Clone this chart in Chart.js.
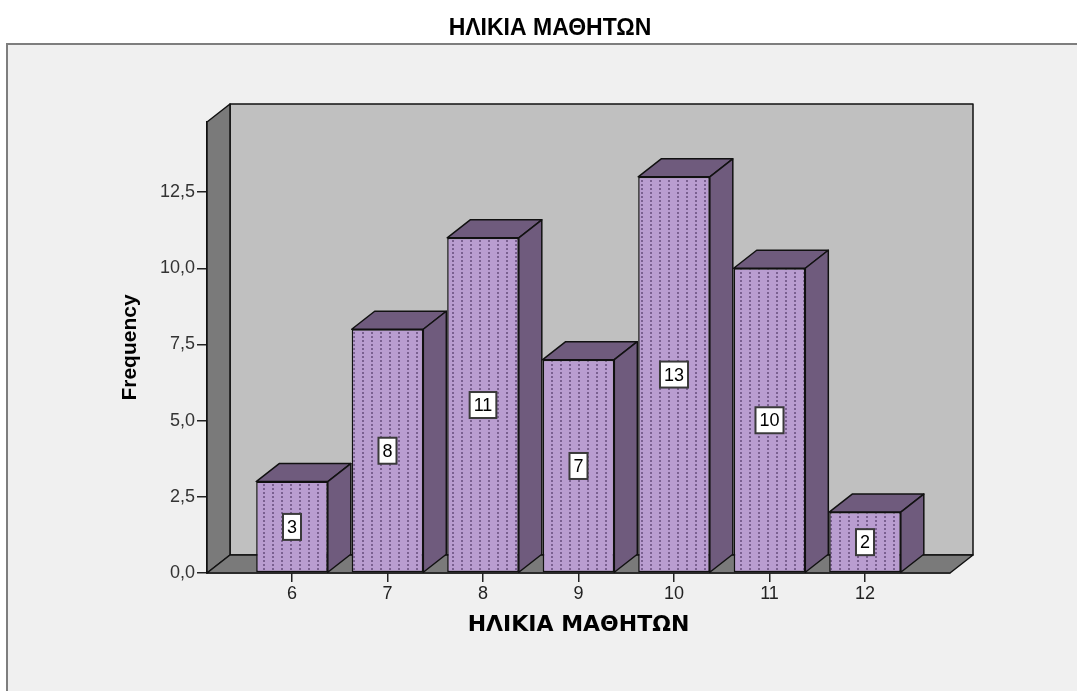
<!DOCTYPE html>
<html>
<head>
<meta charset="utf-8">
<script src="https://cdn.jsdelivr.net/npm/chart.js@4.4.1/dist/chart.umd.min.js"></script>
<style>
  html, body { margin: 0; padding: 0; background: #ffffff; overflow: hidden; }
  canvas { display: block; }
</style>
</head>
<body>
<canvas id="myChart" width="1077" height="691"></canvas>
<script>
// values
var ages = [6, 7, 8, 9, 10, 11, 12];
var freq = [3, 8, 11, 7, 13, 10, 2];
var yTicks = [0, 2.5, 5, 7.5, 10, 12.5];
var titleText = 'ΗΛΙΚΙΑ ΜΑΘΗΤΩΝ';
var xTitle = 'ΗΛΙΚΙΑ ΜΑΘΗΤΩΝ';
var yTitle = 'Frequency';

// 3d depth of the box and bars
var DX = 23, DY = 18;

function makeDots() {
    var c = document.createElement('canvas');
    c.width = 9; c.height = 4;
    var g = c.getContext('2d');
    g.fillStyle = '#b99dd0';
    g.fillRect(0, 0, 9, 4);
    g.fillStyle = '#7a6090';
    g.fillRect(2, 0, 2, 2);
    return g.createPattern(c, 'repeat');
}

function poly(ctx, pts, fill) {
    ctx.beginPath();
    ctx.moveTo(pts[0][0], pts[0][1]);
    for (var i = 1; i < pts.length; i++) ctx.lineTo(pts[i][0], pts[i][1]);
    ctx.closePath();
    ctx.fillStyle = fill;
    ctx.fill();
    ctx.stroke();
}

var boxPlugin = {
    id: 'box3d',
    beforeDraw: function(chart) {
        var ctx = chart.ctx;
        ctx.save();
        ctx.fillStyle = '#ffffff';
        ctx.fillRect(0, 0, chart.width, chart.height);
        ctx.fillStyle = '#f0f0f0';
        ctx.fillRect(7, 44, chart.width, chart.height);
        ctx.strokeStyle = '#7e7e7e';
        ctx.lineWidth = 2;
        ctx.beginPath();
        ctx.moveTo(7, chart.height + 5);
        ctx.lineTo(7, 44);
        ctx.lineTo(chart.width + 5, 44);
        ctx.stroke();
        ctx.restore();
    },
    beforeDatasetsDraw: function(chart) {
        var ctx = chart.ctx;
        var a = chart.chartArea;
        ctx.save();
        ctx.strokeStyle = '#111111';
        ctx.lineWidth = 1.5;
        ctx.lineJoin = 'round';
        // back wall, side wall, floor
        poly(ctx, [[a.left + DX, a.top - DY], [a.right + DX, a.top - DY], [a.right + DX, a.bottom - DY], [a.left + DX, a.bottom - DY]], '#c0c0c0');
        poly(ctx, [[a.left, a.top], [a.left + DX, a.top - DY], [a.left + DX, a.bottom - DY], [a.left, a.bottom]], '#7a7a7a');
        poly(ctx, [[a.left, a.bottom], [a.left + DX, a.bottom - DY], [a.right + DX, a.bottom - DY], [a.right, a.bottom]], '#7a7a7a');
        // top and side of every bar
        var bars = chart.getDatasetMeta(0).data;
        bars.forEach(function(b) {
            var xl = b.x - b.width / 2, xr = b.x + b.width / 2;
            var yt = b.y, yb = b.base;
            poly(ctx, [[xl, yt], [xl + DX, yt - DY], [xr + DX, yt - DY], [xr, yt]], '#6f5b7d');
            poly(ctx, [[xr, yt], [xr + DX, yt - DY], [xr + DX, yb - DY], [xr, yb]], '#6f5b7d');
        });
        ctx.restore();
    },
    afterDatasetsDraw: function(chart) {
        var ctx = chart.ctx;
        var bars = chart.getDatasetMeta(0).data;
        ctx.save();
        ctx.font = '18px "Liberation Sans", Arial, sans-serif';
        ctx.textAlign = 'center';
        ctx.textBaseline = 'middle';
        bars.forEach(function(b, i) {
            var txt = String(freq[i]);
            var w = ctx.measureText(txt).width + 8;
            var h = 26;
            var cy = (b.y + b.base) / 2;
            ctx.fillStyle = '#ffffff';
            ctx.fillRect(b.x - w / 2, cy - h / 2, w, h);
            ctx.strokeStyle = '#3a3a3a';
            ctx.lineWidth = 2;
            ctx.strokeRect(b.x - w / 2, cy - h / 2, w, h);
            ctx.fillStyle = '#000000';
            ctx.fillText(txt, b.x, cy + 1);
        });
        ctx.restore();
    }
};

var ctx = document.getElementById('myChart').getContext('2d');
var myChart = new Chart(ctx, {
    type: 'bar',
    data: {
        datasets: [{
            label: yTitle,
            data: ages.map(function(a, i) { return { x: a, y: freq[i] }; }),
            backgroundColor: makeDots(),
            borderColor: '#111111',
            borderWidth: 1.5,
            borderSkipped: false,
            barPercentage: 0.75,
            categoryPercentage: 1
        }]
    },
    options: {
        responsive: false,
        animation: false,
        layout: { padding: { left: 150, right: 127, top: 0, bottom: 53 } },
        plugins: {
            legend: { display: false },
            tooltip: { enabled: false },
            title: {
                display: true,
                text: titleText,
                color: '#000000',
                font: { family: '"Liberation Sans", Arial, sans-serif', size: 23, weight: 'bold' },
                padding: { top: 15, bottom: 79.4 }
            }
        },
        scales: {
            x: {
                type: 'linear',
                offset: false,
                min: 5.11,
                max: 12.89,
                afterFit: function(s) { s.height = 65; },
                afterBuildTicks: function(s) { s.ticks = ages.map(function(v) { return { value: v }; }); },
                ticks: { stepSize: 1, color: '#222222', padding: 1, font: { family: '"Liberation Sans", Arial, sans-serif', size: 18 } },
                grid: { offset: false, drawOnChartArea: false, drawTicks: true, tickLength: 9, color: '#222222', lineWidth: 1.5 },
                border: { display: true, color: '#111111', width: 1.5 },
                title: {
                    display: true,
                    text: xTitle,
                    color: '#000000',
                    padding: { top: 0, bottom: 0 },
                    font: { family: '"DejaVu Sans", sans-serif', size: 22, weight: 'bold' }
                }
            },
            y: {
                min: 0,
                max: 14.8,
                afterFit: function(s) { s.width = 57; },
                afterBuildTicks: function(s) { s.ticks = yTicks.map(function(v) { return { value: v }; }); },
                ticks: {
                    color: '#333333',
                    padding: 2,
                    font: { family: '"Liberation Sans", Arial, sans-serif', size: 18 },
                    callback: function(v) { return v.toFixed(1).replace('.', ','); }
                },
                grid: { drawOnChartArea: false, drawTicks: true, tickLength: 10, color: '#222222', lineWidth: 1.5 },
                border: { display: true, color: '#111111', width: 1.5 },
                title: {
                    display: true,
                    text: yTitle,
                    color: '#000000',
                    padding: { top: -32.6, bottom: 0 },
                    font: { family: '"Liberation Sans", Arial, sans-serif', size: 21, weight: 'bold' }
                }
            }
        }
    },
    plugins: [boxPlugin]
});
</script>
</body>
</html>
